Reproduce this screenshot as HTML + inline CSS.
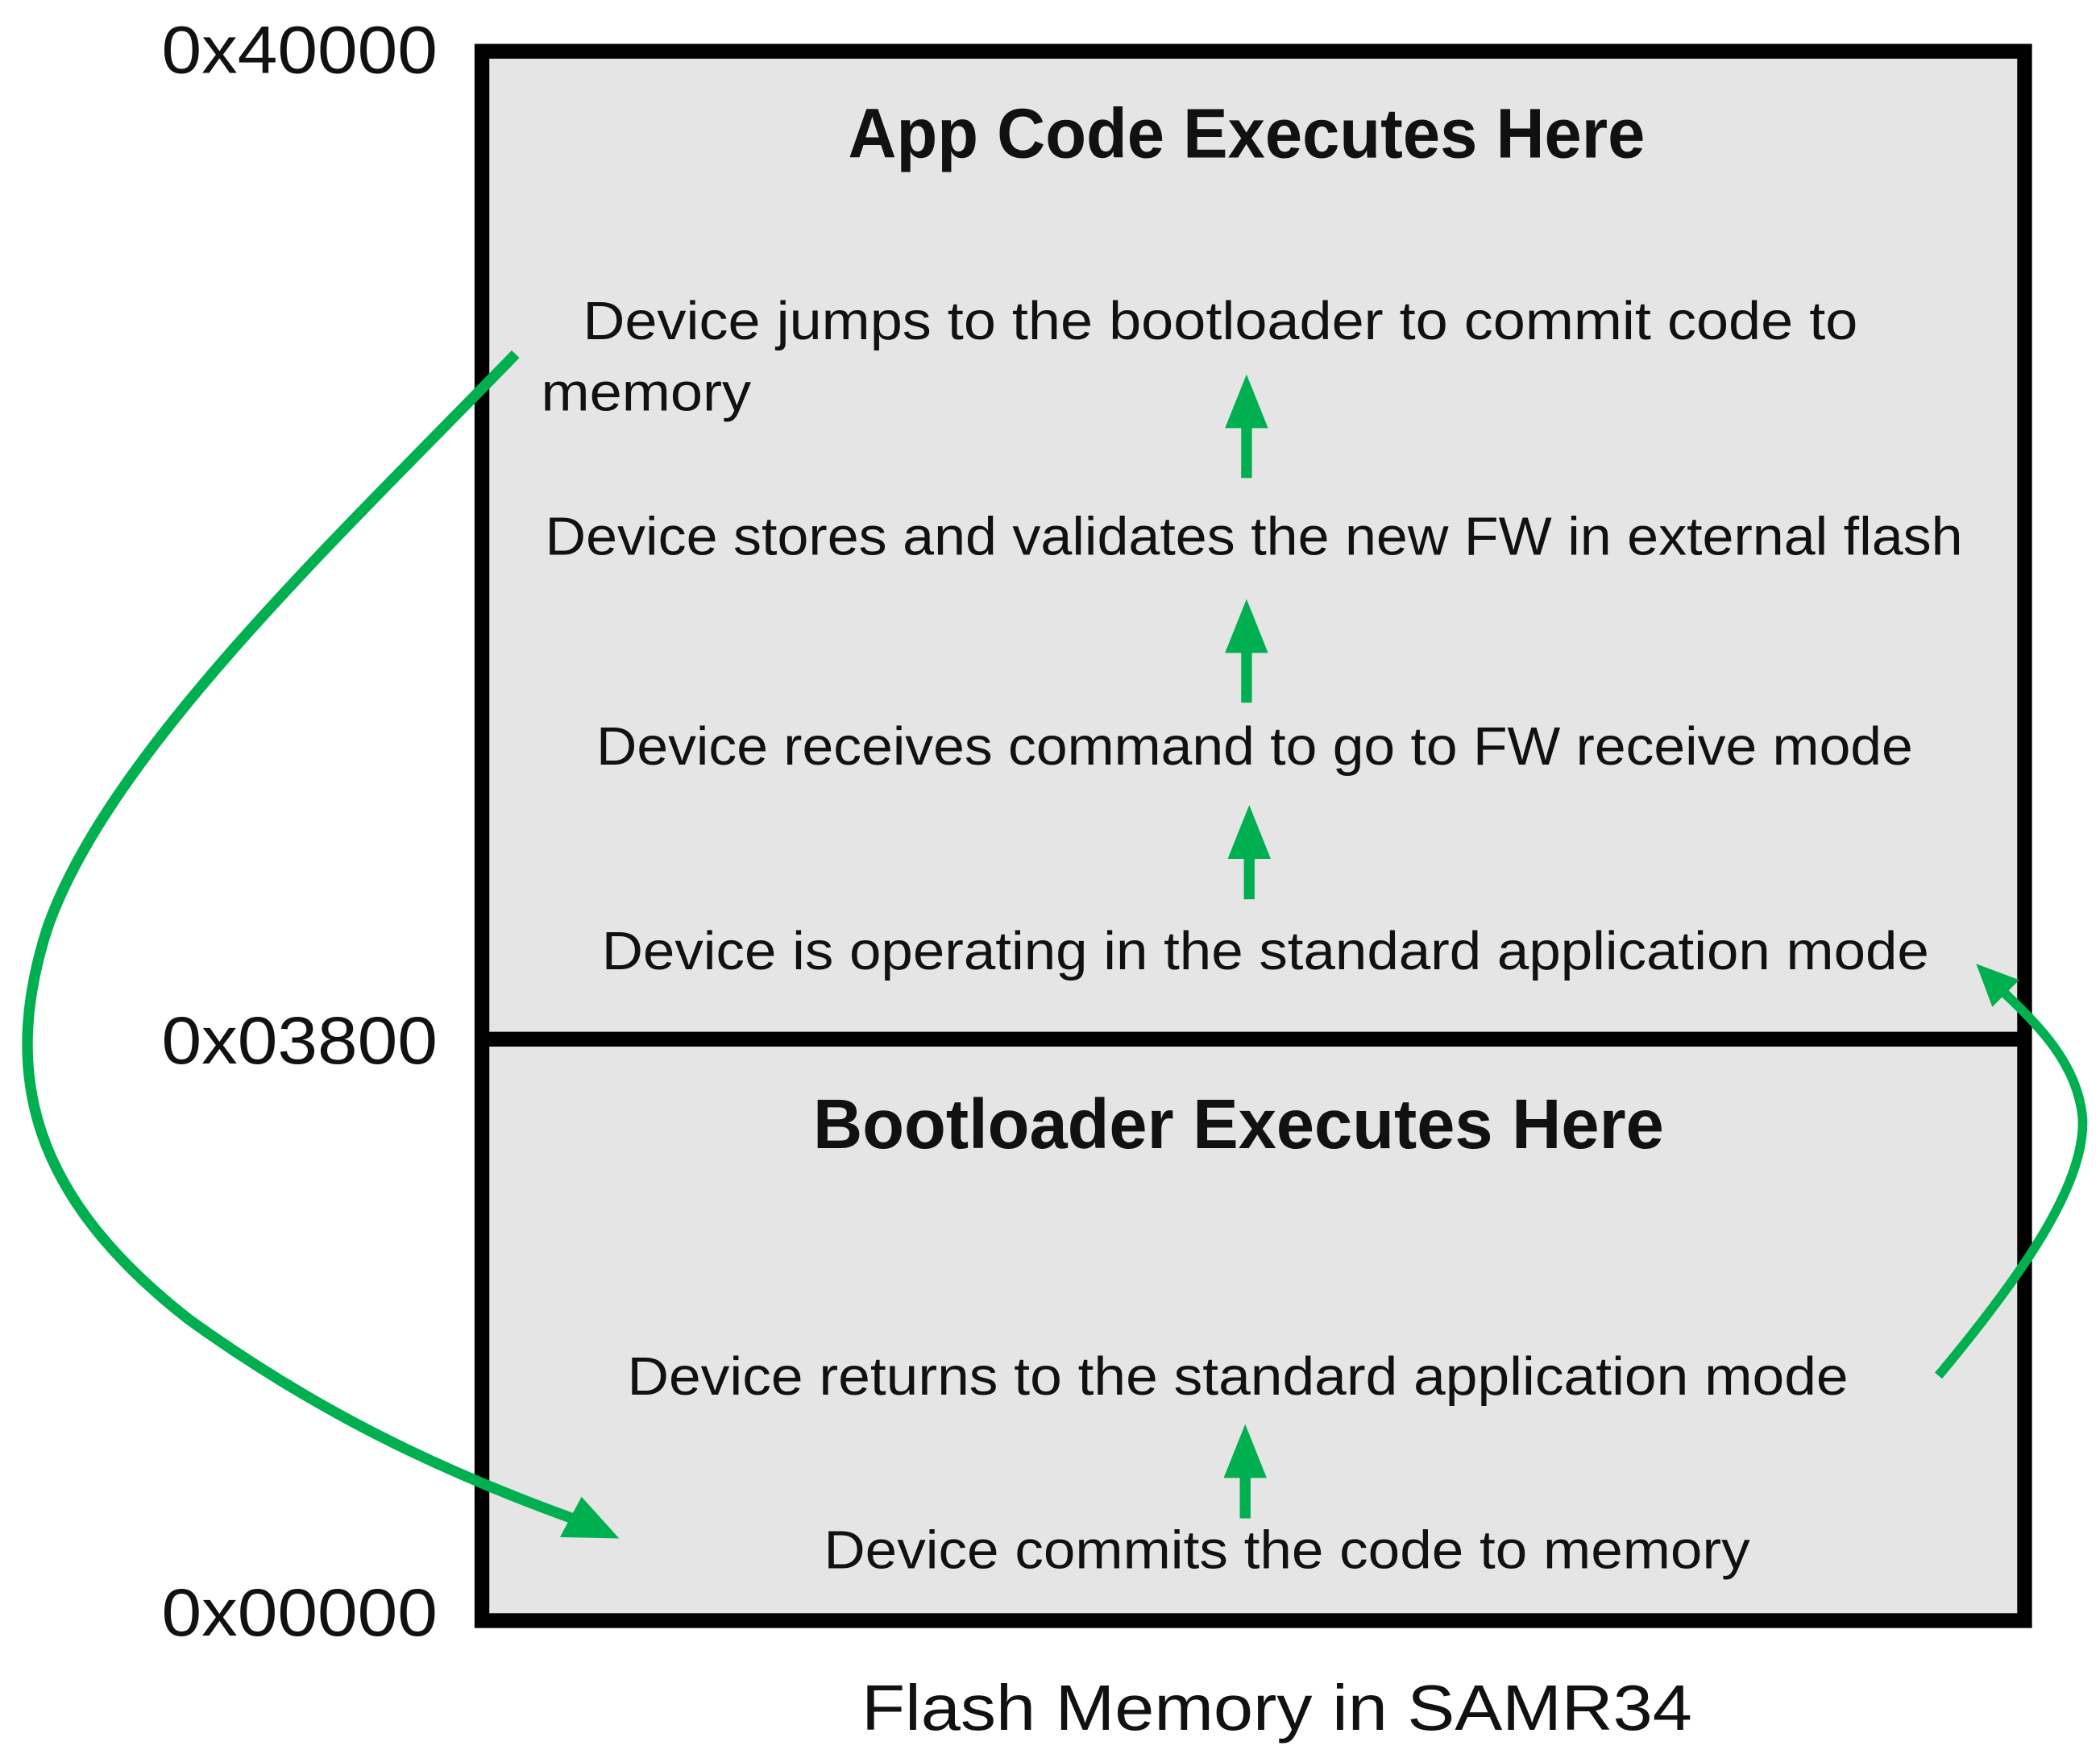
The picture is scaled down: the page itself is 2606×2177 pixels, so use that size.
<!DOCTYPE html>
<html><head><meta charset="utf-8"><style>
html,body{margin:0;padding:0;background:#fff;}
svg{display:block;}
text{font-family:"Liberation Sans",sans-serif;fill:#111;}
</style></head><body>
<svg width="2606" height="2177" viewBox="0 0 1560 1303" xmlns="http://www.w3.org/2000/svg">
<rect x="358" y="38" width="1146" height="1166" fill="#e5e5e5" stroke="#000" stroke-width="11"/>
<line x1="358" y1="772" x2="1504" y2="772" stroke="#000" stroke-width="11"/>

<text x="120" y="54" font-size="50" textLength="205" lengthAdjust="spacingAndGlyphs">0x40000</text>
<text x="120" y="790" font-size="50" textLength="205" lengthAdjust="spacingAndGlyphs">0x03800</text>
<text x="120" y="1215" font-size="50" textLength="205" lengthAdjust="spacingAndGlyphs">0x00000</text>

<text x="630" y="117" font-size="52" font-weight="bold" textLength="592" lengthAdjust="spacingAndGlyphs">App Code Executes Here</text>
<text x="604" y="853" font-size="52" font-weight="bold" textLength="632" lengthAdjust="spacingAndGlyphs">Bootloader Executes Here</text>

<g font-size="40">
<text x="433" y="252" textLength="947" lengthAdjust="spacingAndGlyphs">Device jumps to the bootloader to commit code to</text>
<text x="402" y="305" textLength="156" lengthAdjust="spacingAndGlyphs">memory</text>
<text x="405" y="412" textLength="1053" lengthAdjust="spacingAndGlyphs">Device stores and validates the new FW in external flash</text>
<text x="443" y="568" textLength="978" lengthAdjust="spacingAndGlyphs">Device receives command to go to FW receive mode</text>
<text x="447" y="720" textLength="986" lengthAdjust="spacingAndGlyphs">Device is operating in the standard application mode</text>
<text x="466" y="1036" textLength="907" lengthAdjust="spacingAndGlyphs">Device returns to the standard application mode</text>
<text x="612" y="1165" textLength="688" lengthAdjust="spacingAndGlyphs">Device commits the code to memory</text>
</g>
<text x="640" y="1285" font-size="48" textLength="617" lengthAdjust="spacingAndGlyphs">Flash Memory in SAMR34</text>

<g stroke="#00b050" stroke-width="8" fill="none">
<line x1="926" y1="355" x2="926" y2="298"/>
<line x1="926" y1="522" x2="926" y2="465"/>
<line x1="928" y1="668" x2="928" y2="618"/>
<line x1="925" y1="1128" x2="925" y2="1078"/>
</g>
<g fill="#00b050">
<path d="M926,278 L910,318 L942,318 z"/>
<path d="M926,445 L910,485 L942,485 z"/>
<path d="M928,598 L912,638 L944,638 z"/>
<path d="M925,1058 L909,1098 L941,1098 z"/>
</g>
<path d="M383,263 C250,400 80,560 35,690 C0,800 25,890 140,980 C230,1045 320,1090 425,1128" stroke="#00b050" stroke-width="8" fill="none"/>
<path d="M460,1143 L416,1142 L432,1112 z" fill="#00b050"/>
<path d="M1440,1022 C1500,950 1550,880 1547,830 C1543,790 1515,762 1484,733" stroke="#00b050" stroke-width="7" fill="none"/>
<path d="M1468,716 L1500,728 L1480,748 z" fill="#00b050"/>
</svg>
</body></html>
